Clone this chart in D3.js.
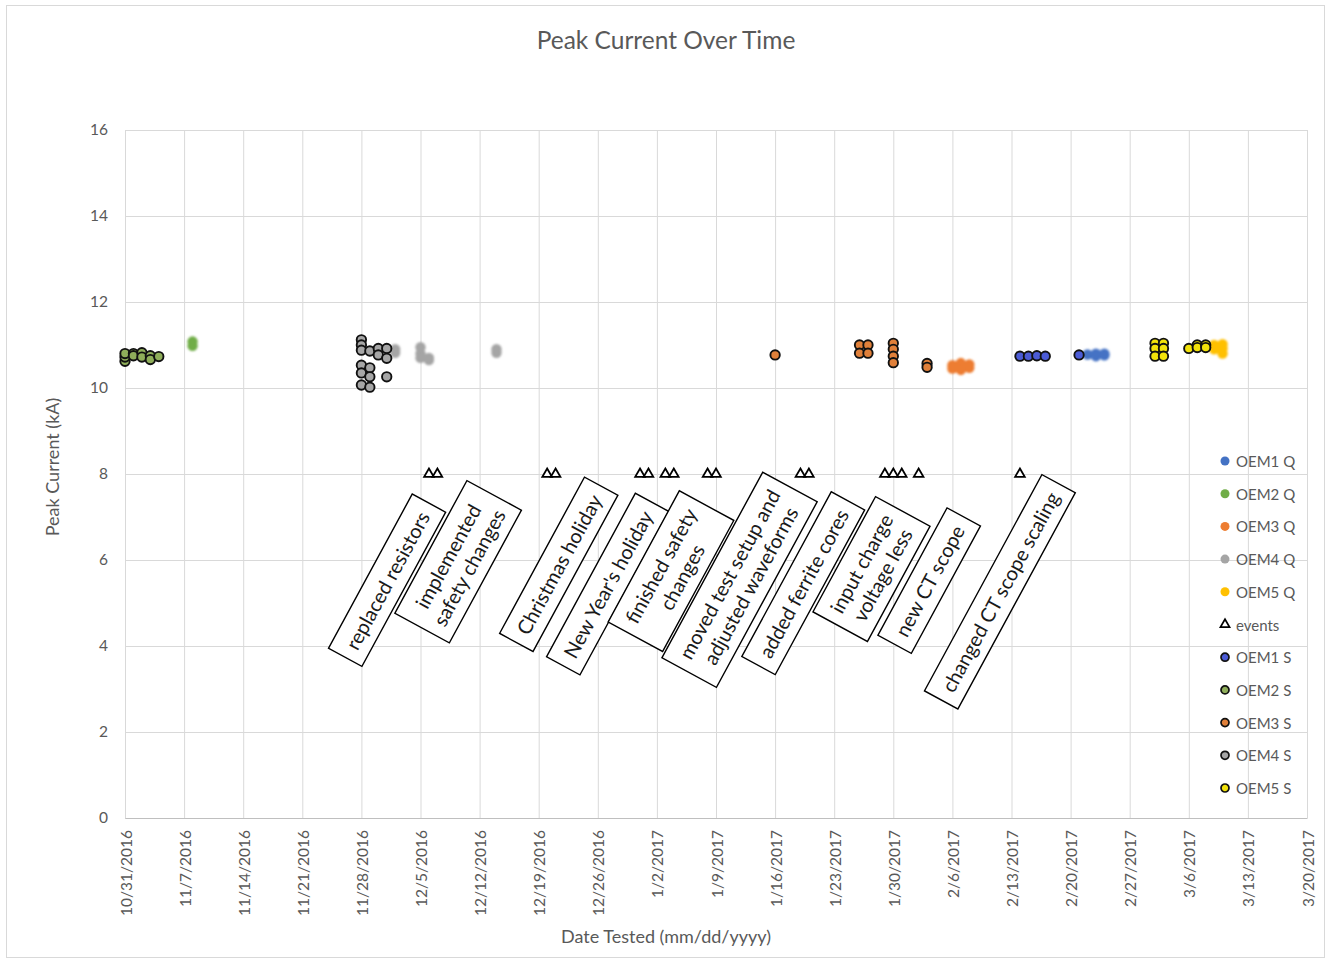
<!DOCTYPE html>
<html>
<head>
<meta charset="utf-8">
<script src="https://cdn.jsdelivr.net/npm/d3@7"></script>
<style>
  body { margin: 0; background: #fff; }
  text { font-family: Lato, "Open Sans", "Liberation Sans", sans-serif; }
</style>
</head>
<body>
<svg id="chart" width="1325" height="960"></svg>
<script>
// Weekly date ticks on the x axis and value ticks on the y axis
const weekTicks = ["10/31/2016","11/7/2016","11/14/2016","11/21/2016","11/28/2016","12/5/2016",
  "12/12/2016","12/19/2016","12/26/2016","1/2/2017","1/9/2017","1/16/2017","1/23/2017",
  "1/30/2017","2/6/2017","2/13/2017","2/20/2017","2/27/2017","3/6/2017","3/13/2017","3/20/2017"];
const valueTicks = [0, 2, 4, 6, 8, 10, 12, 14, 16];

// Peak current readings [date, kA]
const oem1Q = [["2/22/2017",10.78],["2/23/2017",10.74],["2/23/2017",10.8],["2/24/2017",10.76],["2/24/2017",10.8]];
const oem2Q = [["11/8/2016",11.08],["11/8/2016",10.98]];
const oem3Q = [["2/6/2017",10.45],["2/6/2017",10.53],["2/7/2017",10.5],["2/7/2017",10.58],["2/7/2017",10.42],
  ["2/8/2017",10.47],["2/8/2017",10.55]];
const oem4Q = [["12/2/2016",10.9],["12/2/2016",10.82],["12/5/2016",10.95],["12/5/2016",10.8],["12/5/2016",10.7],
  ["12/6/2016",10.65],["12/6/2016",10.7],["12/14/2016",10.9],["12/14/2016",10.82]];
const oem5Q = [["3/9/2017",11.0],["3/9/2017",10.9],["3/10/2017",11.02],["3/10/2017",10.92],["3/10/2017",10.8]];

const oem1S = [["2/14/2017",10.74],["2/15/2017",10.74],["2/16/2017",10.75],["2/17/2017",10.74],["2/21/2017",10.77]];
const oem2S = [["10/31/2016",10.62],["10/31/2016",10.72],["10/31/2016",10.8],["11/1/2016",10.8],["11/1/2016",10.75],
  ["11/2/2016",10.82],["11/2/2016",10.72],["11/3/2016",10.75],["11/3/2016",10.66],["11/4/2016",10.73]];
const oem3S = [["1/16/2017",10.77],["1/26/2017",11.0],["1/26/2017",10.81],["1/27/2017",11.0],["1/27/2017",10.81],
  ["1/30/2017",11.04],["1/30/2017",10.9],["1/30/2017",10.74],["1/30/2017",10.59],["2/3/2017",10.57],["2/3/2017",10.48]];
const oem4S = [["11/28/2016",11.12],["11/28/2016",11.0],["11/28/2016",10.88],["11/28/2016",10.53],["11/28/2016",10.35],
  ["11/28/2016",10.07],["11/29/2016",10.86],["11/29/2016",10.47],["11/29/2016",10.26],["11/29/2016",10.02],
  ["11/30/2016",10.92],["11/30/2016",10.77],["12/1/2016",10.92],["12/1/2016",10.69],["12/1/2016",10.26]];
const oem5S = [["3/2/2017",11.04],["3/2/2017",10.92],["3/2/2017",10.74],["3/3/2017",11.04],["3/3/2017",10.92],
  ["3/3/2017",10.74],["3/6/2017",10.92],["3/7/2017",11.0],["3/7/2017",10.94],["3/8/2017",11.0],["3/8/2017",10.94]];

// Event markers, plotted on the 8 kA line
const eventDates = ["12/6/2016","12/7/2016","12/20/2016","12/21/2016","12/31/2016","1/1/2017","1/3/2017","1/4/2017",
  "1/8/2017","1/9/2017","1/19/2017","1/20/2017","1/29/2017","1/30/2017","1/31/2017","2/2/2017","2/14/2017"];
const eventLevel = 8;

// Callout notes: text lines and where each note sits (date-time, kA)
const noteLines = [
  ["replaced resistors"],
  ["implemented", "safety changes"],
  ["Christmas holiday"],
  ["New Year's holiday"],
  ["finished safety", "changes"],
  ["moved test setup and", "adjusted waveforms"],
  ["added ferrite cores"],
  ["input charge", "voltage less"],
  ["new CT scope"],
  ["changed CT scope scaling"]
];
const noteAt = ["12/1/2016 01:00","12/9/2016 11:00","12/21/2016 09:00","12/27/2016 04:00","1/3/2017 16:00",
  "1/11/2017 19:00","1/19/2017 08:00","1/27/2017 10:00","2/3/2017 06:00","2/11/2017 15:00"];
const noteLevel = [5.53, 5.96, 5.9, 5.44, 5.74, 5.54, 5.46, 5.79, 5.52, 5.26];

const seriesNames = ["OEM1 Q","OEM2 Q","OEM3 Q","OEM4 Q","OEM5 Q","events","OEM1 S","OEM2 S","OEM3 S","OEM4 S","OEM5 S"];
const seriesColors = ["#4472C4","#70AD47","#ED7D31","#A5A5A5","#FFC000","#ffffff","#4B5BD6","#8FAE5A","#E0803A","#A6A6A6","#F2E20A"];

const parseDay = d3.utcParse("%m/%d/%Y");
const parseStamp = d3.utcParse("%m/%d/%Y %H:%M");
const fmtDay = d3.utcFormat("%-m/%-d/%Y");

const svg = d3.select("#chart");
const W = 1325, H = 960;
const plotLeft = 125, plotRight = 1307, plotTop = 130, plotBottom = 818;

// chart frame
svg.append("rect").attr("x", 6.5).attr("y", 5.5).attr("width", W - 7).attr("height", H - 8)
  .attr("fill", "#fff").attr("stroke", "#D9D9D9");

const tickDates = weekTicks.map(parseDay);
const x = d3.scaleUtc().domain([tickDates[0], tickDates[tickDates.length - 1]]).range([plotLeft, plotRight]);
const y = d3.scaleLinear().domain([0, 16]).range([plotBottom, plotTop]);

// gridlines
const gridX = svg.append("g").attr("transform", `translate(0,${plotBottom})`)
  .call(d3.axisBottom(x).tickValues(tickDates).tickSize(-(plotBottom - plotTop)).tickFormat(""));
const gridY = svg.append("g").attr("transform", `translate(${plotLeft},0)`)
  .call(d3.axisLeft(y).tickValues(valueTicks).tickSize(-(plotRight - plotLeft)).tickFormat(""));
[gridX, gridY].forEach(g => {
  g.select(".domain").remove();
  g.selectAll("line").attr("stroke", "#D9D9D9").attr("stroke-width", 1);
});

// x axis line and labels
const xAxis = svg.append("g").attr("transform", `translate(0,${plotBottom})`)
  .call(d3.axisBottom(x).tickValues(tickDates).tickSize(0).tickFormat(fmtDay));
xAxis.select(".domain").attr("stroke", "#BFBFBF");
xAxis.selectAll("text")
  .attr("fill", "#595959").attr("font-size", 15.5)
  .attr("text-anchor", "end").attr("dy", null).attr("y", 0)
  .attr("dominant-baseline", "central")
  .attr("transform", "translate(0,12) rotate(-90)");

// y axis labels
const yAxis = svg.append("g").attr("transform", `translate(${plotLeft},0)`)
  .call(d3.axisLeft(y).tickValues(valueTicks).tickSize(0).tickPadding(17));
yAxis.select(".domain").remove();
yAxis.selectAll("text").attr("fill", "#595959").attr("font-size", 15.5);

// titles
svg.append("text").attr("x", 666).attr("y", 39).attr("text-anchor", "middle")
  .attr("dominant-baseline", "central").attr("font-size", 24.5).attr("fill", "#595959")
  .text("Peak Current Over Time");
svg.append("text").attr("x", 666).attr("y", 936).attr("text-anchor", "middle")
  .attr("dominant-baseline", "central").attr("font-size", 18).attr("fill", "#595959")
  .text("Date Tested (mm/dd/yyyy)");
svg.append("text").attr("transform", "translate(52,467) rotate(-90)").attr("text-anchor", "middle")
  .attr("dominant-baseline", "central").attr("font-size", 18).attr("fill", "#595959")
  .text("Peak Current (kA)");

// slight softness on the Q markers
const defs = svg.append("defs");
defs.append("filter").attr("id", "soft").attr("x", "-50%").attr("y", "-50%").attr("width", "200%").attr("height", "200%")
  .append("feGaussianBlur").attr("stdDeviation", 0.8);

const plot = svg.append("g");
const qSeries = [oem1Q, oem2Q, oem3Q, oem4Q, oem5Q];
const sSeries = [oem1S, oem2S, oem3S, oem4S, oem5S];

qSeries.forEach((data, i) => {
  plot.append("g").attr("filter", "url(#soft)").selectAll("circle").data(data).join("circle")
    .attr("cx", d => x(parseDay(d[0]))).attr("cy", d => y(d[1]))
    .attr("r", 5.2).attr("fill", seriesColors[i]);
});

const tri = d3.symbol(d3.symbolTriangle, 40);
plot.append("g").selectAll("path").data(eventDates).join("path")
  .attr("d", tri)
  .attr("transform", d => `translate(${x(parseDay(d))},${y(eventLevel)})`)
  .attr("fill", "#fff").attr("stroke", "#000").attr("stroke-width", 1.8);

sSeries.forEach((data, i) => {
  plot.append("g").selectAll("circle").data(data).join("circle")
    .attr("cx", d => x(parseDay(d[0]))).attr("cy", d => y(d[1]))
    .attr("r", 4.7).attr("fill", seriesColors[i + 6])
    .attr("stroke", "#111").attr("stroke-width", 1.9);
});

// legend
const legend = svg.append("g");
seriesNames.forEach((name, i) => {
  const ly = 461 + i * 32.7;
  const row = legend.append("g").attr("transform", `translate(1225,${ly})`);
  if (name === "events") {
    row.append("path").attr("d", d3.symbol(d3.symbolTriangle, 36)).attr("fill", "#fff")
      .attr("stroke", "#000").attr("stroke-width", 1.7);
  } else if (i < 5) {
    row.append("circle").attr("r", 4.5).attr("fill", seriesColors[i]);
  } else {
    row.append("circle").attr("r", 4).attr("fill", seriesColors[i]).attr("stroke", "#111").attr("stroke-width", 1.7);
  }
  row.append("text").attr("x", 11).attr("dominant-baseline", "central")
    .attr("font-size", 15).attr("fill", "#595959").text(name);
});

// callout notes, tilted along the timeline
const notes = svg.append("g");
noteLines.forEach((lines, i) => {
  const cx = x(parseStamp(noteAt[i])), cy = y(noteLevel[i]);
  const g = notes.append("g").attr("transform", `translate(${cx},${cy}) rotate(-61.5)`);
  const box = g.append("rect");
  const lh = 24;
  let maxW = 0;
  lines.forEach((t, k) => {
    const tx = g.append("text").attr("x", 0).attr("y", (k - (lines.length - 1) / 2) * lh)
      .attr("text-anchor", "middle").attr("dominant-baseline", "central")
      .attr("font-size", 20).attr("fill", "#1a1a1a").text(t);
    maxW = Math.max(maxW, tx.node().getComputedTextLength());
  });
  const bw = maxW + 22, bh = lines.length * lh + 14;
  box.attr("x", -bw / 2).attr("y", -bh / 2).attr("width", bw).attr("height", bh)
    .attr("fill", "#fff").attr("stroke", "#000").attr("stroke-width", 1.4);
});
</script>
</body>
</html>
